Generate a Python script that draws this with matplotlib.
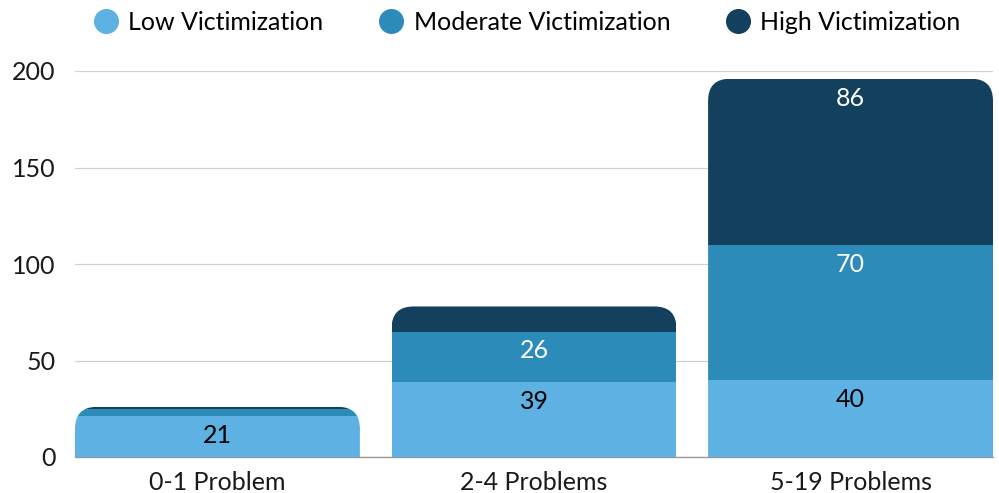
import numpy as np
import matplotlib
matplotlib.use('Agg')
import matplotlib.pyplot as plt
from matplotlib.patches import FancyBboxPatch
from matplotlib.lines import Line2D

# Data
categories = ['0-1 Problem', '2-4 Problems', '5-19 Problems']
series_names = ['Low Victimization', 'Moderate Victimization', 'High Victimization']
low = [21, 39, 40]
moderate = [4, 26, 70]
high = [1, 13, 86]
show_label = [[True, True, True], [False, True, True], [False, False, True]]
colors = ['#5eb1e3', '#2d8bba', '#12405d']
label_colors = ['black', 'white', 'white']

plt.rcParams['font.family'] = ['Lato', 'DejaVu Sans']

W, H = 999, 493
fig = plt.figure(figsize=(W / 100, H / 100), dpi=100)
ax_l, ax_r, ax_b, ax_t = 75, 993, 36, 422
ax = fig.add_axes([ax_l / W, ax_b / H, (ax_r - ax_l) / W, (ax_t - ax_b) / H])

x = np.arange(len(categories))
width = 0.9
ax.set_xlim(-0.45, len(categories) - 0.55)
ax.set_ylim(0, 200)

# rounding radius in pixels converted to data units
px_x = (ax_r - ax_l) / (len(categories) - 0.1)
px_y = (ax_t - ax_b) / 200.0
radius_px = 22
rx = radius_px / px_x
ry = radius_px / px_y

series = [low, moderate, high]
totals = np.sum(series, axis=0)
bottoms = np.zeros(len(categories))
for s, (vals, col, lc) in enumerate(zip(series, colors, label_colors)):
    bars = ax.bar(x, vals, width, bottom=bottoms, color=col, zorder=2, linewidth=0)
    for i, b in enumerate(bars):
        clip = FancyBboxPatch((x[i] - width / 2, -50), width, totals[i] + 50,
                              boxstyle='round,pad=0,rounding_size=%f' % rx,
                              mutation_aspect=ry / rx, transform=ax.transData)
        b.set_clip_path(clip)
        if show_label[s][i]:
            ax.annotate(str(vals[i]), (x[i], bottoms[i] + vals[i]), xytext=(0, -14),
                        textcoords='offset points', ha='center', va='center',
                        color=lc, fontsize=18, zorder=3)
    bottoms = bottoms + np.array(vals)

# axes styling
ax.set_yticks([0, 50, 100, 150, 200])
ax.yaxis.grid(True, color='#d0d0d0', linewidth=0.9, zorder=0)
ax.set_axisbelow(True)
for sp in ['top', 'right', 'left']:
    ax.spines[sp].set_visible(False)
ax.spines['bottom'].set_color('#999999')
ax.spines['bottom'].set_linewidth(1.0)
ax.spines['bottom'].set_zorder(1)
ax.set_xticks(x)
ax.set_xticklabels(categories)
ax.tick_params(axis='both', length=0, labelsize=18, colors='#1a1a1a')
ax.tick_params(axis='y', pad=14)
ax.tick_params(axis='x', pad=10)

# legend
handles = [Line2D([0], [0], marker='o', linestyle='', markersize=17,
                  markerfacecolor=c, markeredgecolor=c) for c in colors]
fig.legend(handles, series_names, loc='center', bbox_to_anchor=(527 / W, 1 - 22 / H),
           ncol=3, frameon=False, fontsize=18, handletextpad=0.4, columnspacing=2.2,
           handlelength=1.0)

fig.savefig('out.png', dpi=100)
